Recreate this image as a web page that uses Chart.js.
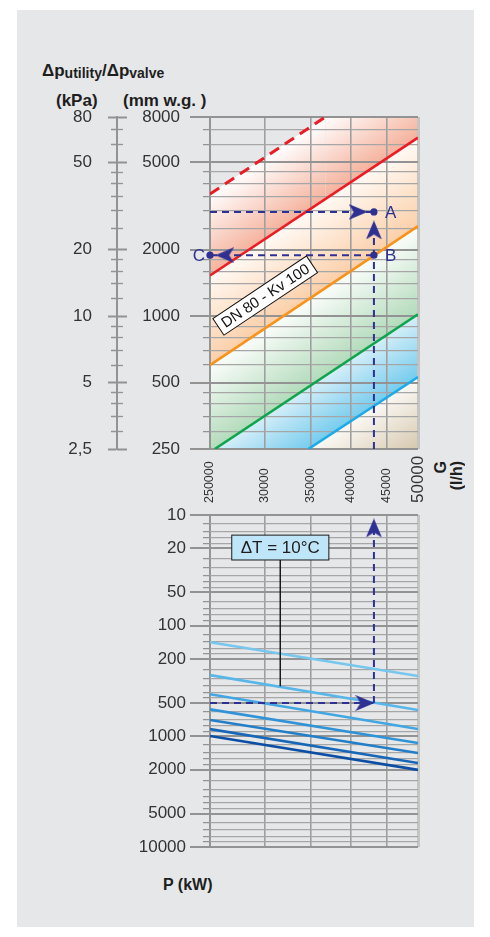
<!DOCTYPE html>
<html>
<head>
<meta charset="utf-8">
<script src="https://cdn.jsdelivr.net/npm/chart.js@4.4.0/dist/chart.umd.min.js"></script>
<style>
html,body{margin:0;padding:0;background:#ffffff;width:490px;height:937px;overflow:hidden;font-family:"Liberation Sans",Arial,Helvetica,sans-serif;color:#222}
#panel{position:absolute;left:17px;top:10px;width:457px;height:917px;background:#e6e7e9}
canvas{position:absolute;left:0}
#c1{top:100px;width:490px;height:360px}
#c2{top:440px;width:490px;height:420px}
.t{position:absolute;white-space:nowrap;font-weight:bold;color:#1e1e1e;line-height:1}
.sub{font-size:14px;position:relative;top:2px}
.vt{writing-mode:vertical-rl;transform:rotate(180deg);line-height:17px}
</style>
</head>
<body>
<div id="panel"></div>
<div class="t" style="left:42px;top:62px;font-size:17px">Δp<span class="sub">utility</span>/Δp<span class="sub">valve</span></div>
<div class="t" style="left:56px;top:92px;font-size:17px">(kPa)</div>
<div class="t" style="left:123px;top:92px;font-size:17px">(mm w.g. )</div>
<div class="t vt" style="left:432px;top:461px;font-size:16px">G</div>
<div class="t vt" style="left:448px;top:461px;font-size:16px">(l/h)</div>
<div class="t" style="left:163px;top:877px;font-size:16px">P (kW)</div>
<canvas id="c1" width="490" height="360"></canvas>
<canvas id="c2" width="490" height="420"></canvas>
<script>
// ---------------- DATA ----------------
// Flow axis (shared by both panels)
const gTickValues = [25000, 30000, 35000, 40000, 45000, 50000];
const gTickLabels = ['250000', '30000', '35000', '40000', '45000', '50000'];

// Upper panel: pressure drop axis (mm w.g.) and kPa twin axis
const mmTickValues = [250, 300, 350, 400, 450, 500, 600, 700, 800, 900, 1000, 1200, 1400, 1600, 1800, 2000, 2500, 3000, 3500, 4000, 4500, 5000, 6000, 7000, 8000];
const mmMajorTicks = [250, 500, 1000, 2000, 5000, 8000];
const mmTickLabels = ['250', '500', '1000', '2000', '5000', '8000'];
const kpaTickLabels = ['2,5', '5', '10', '20', '50', '80'];

// Valve characteristic lines (G in l/h, pressure drop in mm w.g.)
const redDashedG = [25000, 36700, 50000];
const redDashedDp = [3580, 8000, 8000];
const redG = [25000, 50000];
const redDp = [1530, 6450];
const orangeG = [25000, 50000];
const orangeDp = [600, 2560];
const greenG = [25400, 50000];
const greenDp = [250, 1020];
const blueG = [34700, 50000];
const blueDp = [250, 530];

// Worked example
const exampleG = 43170;
const pointA = 2970;
const pointB = 1890;
const exampleP = 500;

// Lower panel: power axis (kW)
const pTickValues = [10, 12, 14, 16, 18, 20, 25, 30, 35, 40, 45, 50, 60, 70, 80, 90, 100, 120, 140, 160, 180, 200, 250, 300, 350, 400, 450, 500, 600, 700, 800, 900, 1000, 1200, 1400, 1600, 1800, 2000, 2500, 3000, 3500, 4000, 4500, 5000, 6000, 7000, 8000, 9000, 10000];
const pMajorTicks = [10, 20, 50, 100, 200, 500, 1000, 2000, 5000, 10000];
const pTickLabels = ['10', '20', '50', '100', '200', '500', '1000', '2000', '5000', '10000'];

// Delta T lines: power at G = 25000 and at G = 50000
const dtLineG = [25000, 50000];
const dtNames = ['ΔT 5', 'ΔT 10', 'ΔT 15', 'ΔT 20', 'ΔT 25', 'ΔT 30', 'ΔT 35'];
const dtPowerAt25000 = [141, 280, 417, 570, 712, 860, 993];
const dtPowerAt50000 = [285, 578, 860, 1150, 1414, 1740, 2010];

// ---------------- STYLE ----------------
const FONT = '"Liberation Sans", Arial, Helvetica, sans-serif';
const NAVY = '#2e3192';
const TXT = '#333333';
const GRID = '#a6a6a6';
const GRID_MAJOR = '#939393';
const dtColors = ['#76c6ee', '#58b6e9', '#42a6e2', '#3193d6', '#237ec7', '#1867b7', '#0c4ea3'];

const pts = (gs, vs) => gs.map((g, i) => ({x: g, y: vs[i]}));
const isMajor = (list, tick) => !!tick && list.includes(tick.value);
const labelFor = (v, list, labels) => { const i = list.indexOf(v); return i < 0 ? '' : labels[i]; };
const noPad = s => { s.paddingTop = 0; s.paddingBottom = 0; s.paddingLeft = 0; s.paddingRight = 0; };

function makeArrow() {
  const c = document.createElement('canvas');
  c.width = 16; c.height = 19;
  const g = c.getContext('2d');
  g.fillStyle = NAVY;
  g.beginPath(); g.moveTo(8, 0); g.lineTo(16, 19); g.lineTo(8, 14); g.lineTo(0, 19); g.closePath(); g.fill();
  return c;
}
const ARROW = makeArrow();

function bandGradient(c, upper, lower, c0, c1) {
  const chart = c.chart, area = chart.chartArea;
  if (!area || !chart.scales.x) return c1;
  const X = chart.scales.x, Y = chart.scales.y;
  const ax = X.getPixelForValue(upper[0][0]), ay = Y.getPixelForValue(upper[1][0]);
  const bx = X.getPixelForValue(upper[0][1]), by = Y.getPixelForValue(upper[1][1]);
  let dx = bx - ax, dy = by - ay; const L = Math.hypot(dx, dy) || 1; dx /= L; dy /= L;
  let nx = -dy, ny = dx; if (ny < 0) { nx = -nx; ny = -ny; }
  const tx = lower ? X.getPixelForValue(lower[0][0]) : area.right;
  const ty = lower ? Y.getPixelForValue(lower[1][0]) : area.bottom;
  const d = (tx - ax) * nx + (ty - ay) * ny;
  const gr = chart.ctx.createLinearGradient(ax, ay, ax + nx * d, ay + ny * d);
  gr.addColorStop(0, c0); gr.addColorStop(1, c1);
  return gr;
}

const xGridColor = c => !c.tick ? GRID : (c.tick.value === 50000 ? '#c4c4c4' : (c.tick.value === 25000 ? '#959595' : '#9f9f9f'));
const xGridWidth = c => !c.tick ? 1 : (c.tick.value === 50000 ? 3 : (c.tick.value === 25000 ? 2 : 1.6));

const baseLine = {pointRadius: 0, tension: 0, fill: false};

// ---------------- UPPER PANEL ----------------
const topNotes = {
  letters: [
    {text: 'A', g: exampleG, v: pointA, dx: 11, align: 'left'},
    {text: 'B', g: exampleG, v: pointB, dx: 11, align: 'left'},
    {text: 'C', g: 25000, v: pointB, dx: -5, align: 'right'}
  ],
  dn: {text: 'DN 80 - Kv 100', g: 30050, v: 1240}
};

const topAnnot = {
  id: 'topAnnot',
  afterDatasetsDraw(chart) {
    const {ctx} = chart; const X = chart.scales.x, Y = chart.scales.y;
    ctx.save();
    ctx.font = '17px ' + FONT; ctx.fillStyle = NAVY; ctx.textBaseline = 'middle';
    topNotes.letters.forEach(n => {
      ctx.textAlign = n.align;
      ctx.fillText(n.text, X.getPixelForValue(n.g) + n.dx, Y.getPixelForValue(n.v) + 1);
    });
    const x1 = X.getPixelForValue(orangeG[0]), y1 = Y.getPixelForValue(orangeDp[0]);
    const x2 = X.getPixelForValue(orangeG[1]), y2 = Y.getPixelForValue(orangeDp[1]);
    const ang = Math.atan2(y2 - y1, x2 - x1);
    ctx.translate(X.getPixelForValue(topNotes.dn.g), Y.getPixelForValue(topNotes.dn.v));
    ctx.rotate(ang);
    ctx.font = '15px ' + FONT;
    const w = ctx.measureText(topNotes.dn.text).width + 10, h = 20;
    ctx.fillStyle = '#ffffff'; ctx.fillRect(-w / 2, -h / 2, w, h);
    ctx.strokeStyle = '#111111'; ctx.lineWidth = 1; ctx.strokeRect(-w / 2, -h / 2, w, h);
    ctx.fillStyle = '#111111'; ctx.textAlign = 'center'; ctx.textBaseline = 'middle';
    ctx.fillText(topNotes.dn.text, 0, 1);
    ctx.restore();
  }
};

new Chart(document.getElementById('c1'), {
  type: 'line',
  data: {
    datasets: [
      // worked example (drawn on top)
      {label: 'A level', data: pts([25000, exampleG], [pointA, pointA]), borderColor: NAVY, borderWidth: 2, borderDash: [7, 5], ...baseLine, order: 0, clip: false},
      {label: 'B-C level', data: pts([25000, exampleG], [pointB, pointB]), borderColor: NAVY, borderWidth: 2, borderDash: [7, 5], ...baseLine, order: 0, clip: false},
      {label: 'G vertical', data: pts([exampleG, exampleG], [250, 2460]), borderColor: NAVY, borderWidth: 2, borderDash: [7, 5], ...baseLine, order: 0, clip: false},
      {label: 'arrows', data: pts([40950, 26260, exampleG], [pointA, pointB, 2460]), showLine: false, pointStyle: ARROW, pointRadius: 6, pointRotation: [90, -90, 0], order: 0, clip: false},
      {label: 'points', data: pts([exampleG, exampleG, 25000], [pointA, pointB, pointB]), showLine: false, pointStyle: 'circle', pointRadius: 3.6, pointBorderWidth: 0, pointBackgroundColor: NAVY, order: 0, clip: false},
      // valve lines with band fills
      {label: 'blue', data: pts(blueG, blueDp), borderColor: '#1eaae6', borderWidth: 2.6, pointRadius: 0, tension: 0, order: 1,
        fill: 'start', backgroundColor: c => bandGradient(c, [blueG, blueDp], null, '#fbf9f5', '#d6c8ae')},
      {label: 'green', data: pts(greenG, greenDp), borderColor: '#0ea54e', borderWidth: 2.6, pointRadius: 0, tension: 0, order: 2,
        fill: 'start', backgroundColor: c => bandGradient(c, [greenG, greenDp], [blueG, blueDp], '#d5eef8', '#76ccee')},
      {label: 'orange', data: pts(orangeG, orangeDp), borderColor: '#f7941d', borderWidth: 2.6, pointRadius: 0, tension: 0, order: 3,
        fill: 'start', backgroundColor: c => bandGradient(c, [orangeG, orangeDp], [greenG, greenDp], '#fbfdfb', '#b3dbbb')},
      {label: 'red', data: pts(redG, redDp), borderColor: '#ec1c24', borderWidth: 2.6, pointRadius: 0, tension: 0, order: 4,
        fill: 'start', backgroundColor: c => bandGradient(c, [redG, redDp], [orangeG, orangeDp], '#fffaf5', '#fbcfa9')},
      {label: 'red dashed', data: pts(redDashedG, redDashedDp), borderColor: '#ec1c24', borderWidth: 3, borderDash: [11, 7], pointRadius: 0, tension: 0, order: 5,
        segment: {borderColor: c => c.p0DataIndex === 1 ? 'rgba(0,0,0,0)' : undefined},
        fill: 'start', backgroundColor: c => bandGradient(c, [redDashedG, redDashedDp], [redG, redDp], '#ffffff', '#f5b29d')}
    ]
  },
  options: {
    responsive: false, animation: false, events: [],
    layout: {padding: {left: 0, right: 72, top: 17, bottom: 11}, autoPadding: false},
    plugins: {legend: {display: false}, tooltip: {enabled: false}, filler: {drawTime: 'beforeDraw'}},
    scales: {
      x: {
        type: 'logarithmic', min: 25000, max: 50000,
        afterBuildTicks: s => { s.ticks = gTickValues.map(v => ({value: v})); },
        afterFit: s => { s.height = 0; noPad(s); },
        border: {display: false},
        grid: {drawTicks: false, color: xGridColor, lineWidth: xGridWidth},
        ticks: {display: false}
      },
      y: {
        type: 'logarithmic', position: 'left', weight: 0, min: 250, max: 8000,
        afterBuildTicks: s => { s.ticks = mmTickValues.map(v => ({value: v})); },
        afterFit: s => { s.width = 83; noPad(s); },
        border: {display: false},
        grid: {
          color: c => isMajor(mmMajorTicks, c.tick) ? GRID_MAJOR : GRID,
          lineWidth: c => isMajor(mmMajorTicks, c.tick) ? 2 : 1.3,
          tickLength: 20, tickColor: GRID_MAJOR,
          tickWidth: c => isMajor(mmMajorTicks, c.tick) ? 2 : 1.3,
          tickBorderDash: c => isMajor(mmMajorTicks, c.tick) ? [] : [0, 13, 7, 100]
        },
        ticks: {autoSkip: false, padding: 10, color: TXT, font: {family: FONT, size: 17},
          callback: v => labelFor(v, mmMajorTicks, mmTickLabels)}
      },
      kpaRight: {
        type: 'logarithmic', position: 'left', weight: 1, min: 250, max: 8000,
        afterBuildTicks: s => { s.ticks = mmTickValues.map(v => ({value: v})); },
        afterFit: s => { s.width = 10; noPad(s); },
        border: {display: false},
        grid: {drawOnChartArea: false, tickLength: 10, tickColor: GRID_MAJOR,
          tickWidth: c => isMajor(mmMajorTicks, c.tick) ? 2 : 1.3,
          tickBorderDash: c => isMajor(mmMajorTicks, c.tick) ? [] : [6, 100]},
        ticks: {display: false, autoSkip: false}
      },
      kpa: {
        type: 'logarithmic', position: 'left', weight: 2, min: 250, max: 8000,
        afterBuildTicks: s => { s.ticks = mmTickValues.map(v => ({value: v})); },
        afterFit: s => { s.width = 117; noPad(s); },
        border: {display: true, color: GRID_MAJOR, width: 2},
        grid: {drawOnChartArea: false, tickLength: 9, tickColor: GRID_MAJOR,
          tickWidth: c => isMajor(mmMajorTicks, c.tick) ? 2 : 1.3,
          tickBorderDash: c => isMajor(mmMajorTicks, c.tick) ? [] : [0, 3, 6, 100]},
        ticks: {autoSkip: false, padding: 16, color: TXT, font: {family: FONT, size: 17},
          callback: v => labelFor(v, mmMajorTicks, kpaTickLabels)}
      }
    }
  },
  plugins: [topAnnot]
});

// ---------------- LOWER PANEL ----------------
const dtNote = {text: 'ΔT = 10°C', g: 31600, pTop: 15.2, pBottom: 25.5, pLeader: 352};

const bottomAnnot = {
  id: 'bottomAnnot',
  afterDatasetsDraw(chart) {
    const {ctx} = chart; const X = chart.scales.x, Y = chart.scales.y;
    const cx = X.getPixelForValue(dtNote.g), top = Y.getPixelForValue(dtNote.pTop), bot = Y.getPixelForValue(dtNote.pBottom);
    ctx.save();
    ctx.font = '17px ' + FONT;
    const w = ctx.measureText(dtNote.text).width + 18;
    ctx.fillStyle = '#bfe6f8'; ctx.fillRect(cx - w / 2, top, w, bot - top);
    ctx.strokeStyle = '#1a1a1a'; ctx.lineWidth = 1; ctx.strokeRect(cx - w / 2, top, w, bot - top);
    ctx.fillStyle = '#1e1e1e'; ctx.textAlign = 'center'; ctx.textBaseline = 'middle';
    ctx.fillText(dtNote.text, cx, (top + bot) / 2 + 1);
    ctx.restore();
  }
};

const dtDatasets = dtNames.map((name, i) => ({
  label: name, data: pts(dtLineG, [dtPowerAt25000[i], dtPowerAt50000[i]]),
  borderColor: dtColors[i], borderWidth: 2.6, ...baseLine, order: 2
}));

new Chart(document.getElementById('c2'), {
  type: 'line',
  data: {
    datasets: [
      {label: 'P level', data: pts([25000, exampleG], [exampleP, exampleP]), borderColor: NAVY, borderWidth: 2, borderDash: [7, 5], ...baseLine, order: 0, clip: false},
      {label: 'G vertical', data: pts([exampleG, exampleG], [exampleP, 14]), borderColor: NAVY, borderWidth: 2, borderDash: [7, 5], ...baseLine, order: 0, clip: false},
      {label: 'arrows', data: pts([41900, exampleG], [exampleP, 13.1]), showLine: false, pointStyle: ARROW, pointRadius: 6, pointRotation: [90, 0], order: 0, clip: false},
      {label: 'leader', data: pts([dtNote.g, dtNote.g], [dtNote.pBottom, dtNote.pLeader]), borderColor: '#1a1a1a', borderWidth: 1, ...baseLine, order: 1},
      ...dtDatasets
    ]
  },
  options: {
    responsive: false, animation: false, events: [],
    layout: {padding: {left: 0, right: 72, top: 0, bottom: 13}, autoPadding: false},
    plugins: {legend: {display: false}, tooltip: {enabled: false}},
    scales: {
      x: {
        type: 'logarithmic', position: 'top', min: 25000, max: 50000,
        afterBuildTicks: s => { s.ticks = gTickValues.map(v => ({value: v})); },
        afterFit: s => { s.height = 75; noPad(s); },
        border: {display: false},
        grid: {drawTicks: false, color: xGridColor, lineWidth: xGridWidth},
        ticks: {autoSkip: false, minRotation: 90, maxRotation: 90, padding: 12, color: TXT, labelOffset: 15,
          font: c => (c.index === 5 ? {family: FONT, size: 17, lineHeight: '15px'} : {family: FONT, size: 12.5, lineHeight: '15px'}),
          callback: (v, i) => gTickLabels[i]}
      },
      y: {
        type: 'logarithmic', position: 'left', reverse: true, min: 10, max: 10000,
        afterBuildTicks: s => { s.ticks = pTickValues.map(v => ({value: v})); },
        afterFit: s => { s.width = 210; noPad(s); },
        border: {display: false},
        grid: {
          color: c => isMajor(pMajorTicks, c.tick) ? GRID_MAJOR : GRID,
          lineWidth: c => isMajor(pMajorTicks, c.tick) ? 2 : 1.2,
          tickLength: 20, tickColor: GRID_MAJOR,
          tickWidth: c => isMajor(pMajorTicks, c.tick) ? 2 : 1.2,
          tickBorderDash: c => isMajor(pMajorTicks, c.tick) ? [] : [0, 13, 7, 100]
        },
        ticks: {autoSkip: false, padding: 4, color: TXT, font: {family: FONT, size: 17},
          callback: v => labelFor(v, pMajorTicks, pTickLabels)}
      }
    }
  },
  plugins: [bottomAnnot]
});
</script>
</body>
</html>
